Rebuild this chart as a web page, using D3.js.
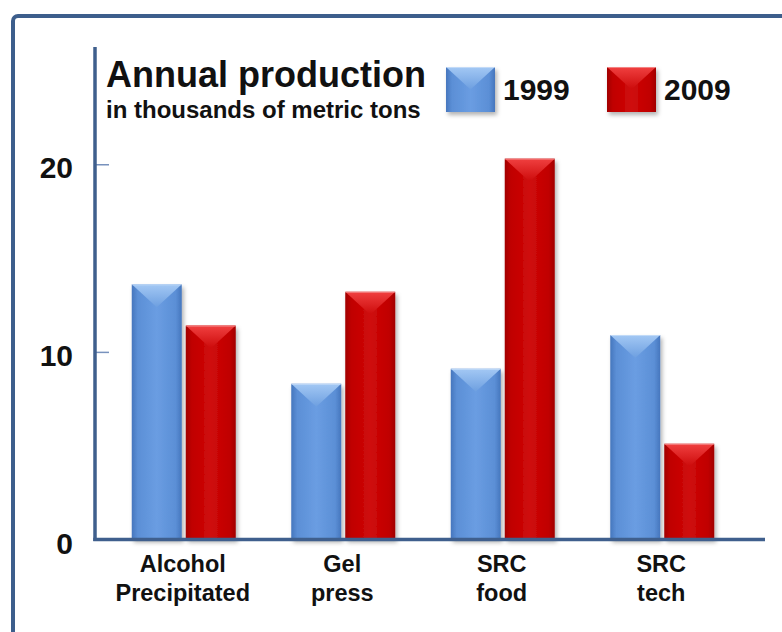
<!DOCTYPE html>
<html>
<head>
<meta charset="utf-8">
<script src="https://cdn.jsdelivr.net/npm/d3@7"></script>
<style>
  html, body { margin: 0; padding: 0; background: #ffffff; }
  svg { display: block; }
  text { font-family: "Liberation Sans", Arial, sans-serif; font-weight: bold; fill: #111; }
</style>
</head>
<body>
<svg id="chart" width="782" height="632"></svg>
<script>
// Annual production, thousands of metric tons
const categories = ["Alcohol Precipitated", "Gel press", "SRC food", "SRC tech"];
const series = ["1999", "2009"];
const values1999 = [13.6, 8.3, 9.1, 10.9];
const values2009 = [11.4, 13.2, 20.3, 5.1];
const yTicks = [0, 10, 20];

const valuesBySeries = { "1999": values1999, "2009": values2009 };
const rows = categories.map((c, i) => ({ category: c, values: series.map(s => ({ series: s, value: valuesBySeries[s][i] })) }));

const svg = d3.select("#chart");
const W = 782, H = 632;

const palette = {
  "1999": { base: "#5b8fd6", dark: "#4676bd", light: "#6a9de2", bevelTop: "#a3c8f4", bevelBot: "#6d9fe0" },
  "2009": { base: "#c00000", dark: "#a10000", light: "#cf0a0a", bevelTop: "#f04040", bevelBot: "#cc0a0a" }
};
const axisColor = "#3f5f8d";

const defs = svg.append("defs");
const shadow = defs.append("filter").attr("id", "shadow")
  .attr("x", "-20%").attr("y", "-10%").attr("width", "150%").attr("height", "130%");
shadow.append("feDropShadow").attr("dx", 2).attr("dy", 3).attr("stdDeviation", 2)
  .attr("flood-color", "#000").attr("flood-opacity", 0.3);

series.forEach(s => {
  const p = palette[s];
  const h = defs.append("linearGradient").attr("id", "body" + s).attr("x1", 0).attr("x2", 1).attr("y1", 0).attr("y2", 0);
  [[0, p.dark], [0.12, p.base], [0.5, p.light], [0.88, p.base], [1, p.dark]]
    .forEach(([o, c]) => h.append("stop").attr("offset", o).attr("stop-color", c));
  const v = defs.append("linearGradient").attr("id", "bevel" + s).attr("x1", 0).attr("x2", 0).attr("y1", 0).attr("y2", 1);
  [[0, p.bevelTop], [1, p.bevelBot]].forEach(([o, c]) => v.append("stop").attr("offset", o).attr("stop-color", c));
});

// Outer frame
svg.append("rect")
  .attr("x", 13).attr("y", 16).attr("width", 820).attr("height", 700)
  .attr("rx", 5).attr("fill", "#fff").attr("stroke", "#3d5e8c").attr("stroke-width", 4);

// Scales
const y = d3.scaleLinear().domain([0, 26.25]).range([539.5, 47]);
const x0 = d3.scaleBand().domain(categories).range([104, 742]).padding(0);
const groupW = 104;
const x1 = d3.scaleBand().domain(series).range([0, groupW]).paddingInner(0.074).paddingOuter(0);

// Bars
const groups = svg.append("g").selectAll("g").data(rows).join("g")
  .attr("transform", d => `translate(${x0(d.category) + (x0.bandwidth() - groupW) / 2},0)`);

function drawBevelBox(sel, s, bx, by, bw, bh) {
  sel.append("rect").attr("x", bx).attr("y", by).attr("width", bw).attr("height", bh)
    .attr("fill", `url(#body${s})`).attr("filter", "url(#shadow)");
  const depth = Math.min(bw * 0.46, bh);
  sel.append("path")
    .attr("d", `M${bx},${by}L${bx + bw},${by}L${bx + bw / 2},${by + depth}Z`)
    .attr("fill", `url(#bevel${s})`);
  sel.append("line").attr("x1", bx).attr("x2", bx + bw).attr("y1", by + 0.5).attr("y2", by + 0.5)
    .attr("stroke", "#fff").attr("stroke-opacity", 0.35).attr("stroke-width", 1);
}

groups.each(function (d) {
  const g = d3.select(this);
  d.values.forEach(v => {
    const bx = x1(v.series), bw = x1.bandwidth();
    const by = y(v.value), bh = y(0) - y(v.value);
    drawBevelBox(g.append("g"), v.series, bx, by, bw, bh);
  });
});

// Y axis: ticks point into the plot, labels on the left
const yAxis = d3.axisLeft(y).tickValues(yTicks).tickSize(-14).tickPadding(22).tickFormat(d3.format("d"));
const yg = svg.append("g").attr("transform", "translate(95,0)").call(yAxis);
yg.select(".domain").remove();
yg.selectAll(".tick line").attr("stroke", "#7892bd").attr("stroke-width", 1.5);
yg.selectAll(".tick text").attr("font-size", 30).attr("font-family", "Liberation Sans, Arial, sans-serif")
  .attr("font-weight", "bold").attr("fill", "#111").attr("dy", "0.45em");
yg.selectAll(".tick").filter(d => d === 0).select("line").remove();

svg.append("line").attr("x1", 95).attr("x2", 95).attr("y1", 47).attr("y2", y(0) + 1.5)
  .attr("stroke", axisColor).attr("stroke-width", 3.5);
svg.append("line").attr("x1", 93.25).attr("x2", 765).attr("y1", y(0)).attr("y2", y(0))
  .attr("stroke", axisColor).attr("stroke-width", 3.5);

// Category labels
const xl = svg.append("g").selectAll("text").data(categories).join("text")
  .attr("text-anchor", "middle")
  .attr("font-size", 23.5)
  .attr("x", d => x0(d) + x0.bandwidth() / 2 - 1)
  .attr("y", 572);
xl.each(function (d) {
  const parts = d.split(" ");
  d3.select(this).selectAll("tspan").data(parts).join("tspan")
    .attr("x", d3.select(this).attr("x"))
    .attr("dy", (p, i) => i === 0 ? 0 : 28.5)
    .text(p => p);
});

// Title
svg.append("text").attr("x", 106).attr("y", 87).attr("font-size", 36).text("Annual production");
svg.append("text").attr("x", 106).attr("y", 118).attr("font-size", 24).text("in thousands of metric tons");

// Legend
const legendX = { "1999": 446, "2009": 607 };
const lg = svg.append("g").selectAll("g").data(series).join("g");
lg.each(function (s) {
  const g = d3.select(this);
  drawBevelBox(g, s, legendX[s], 67, 49, 45);
  g.append("text").attr("x", legendX[s] + 57).attr("y", 100).attr("font-size", 30).text(s);
});
</script>
</body>
</html>
